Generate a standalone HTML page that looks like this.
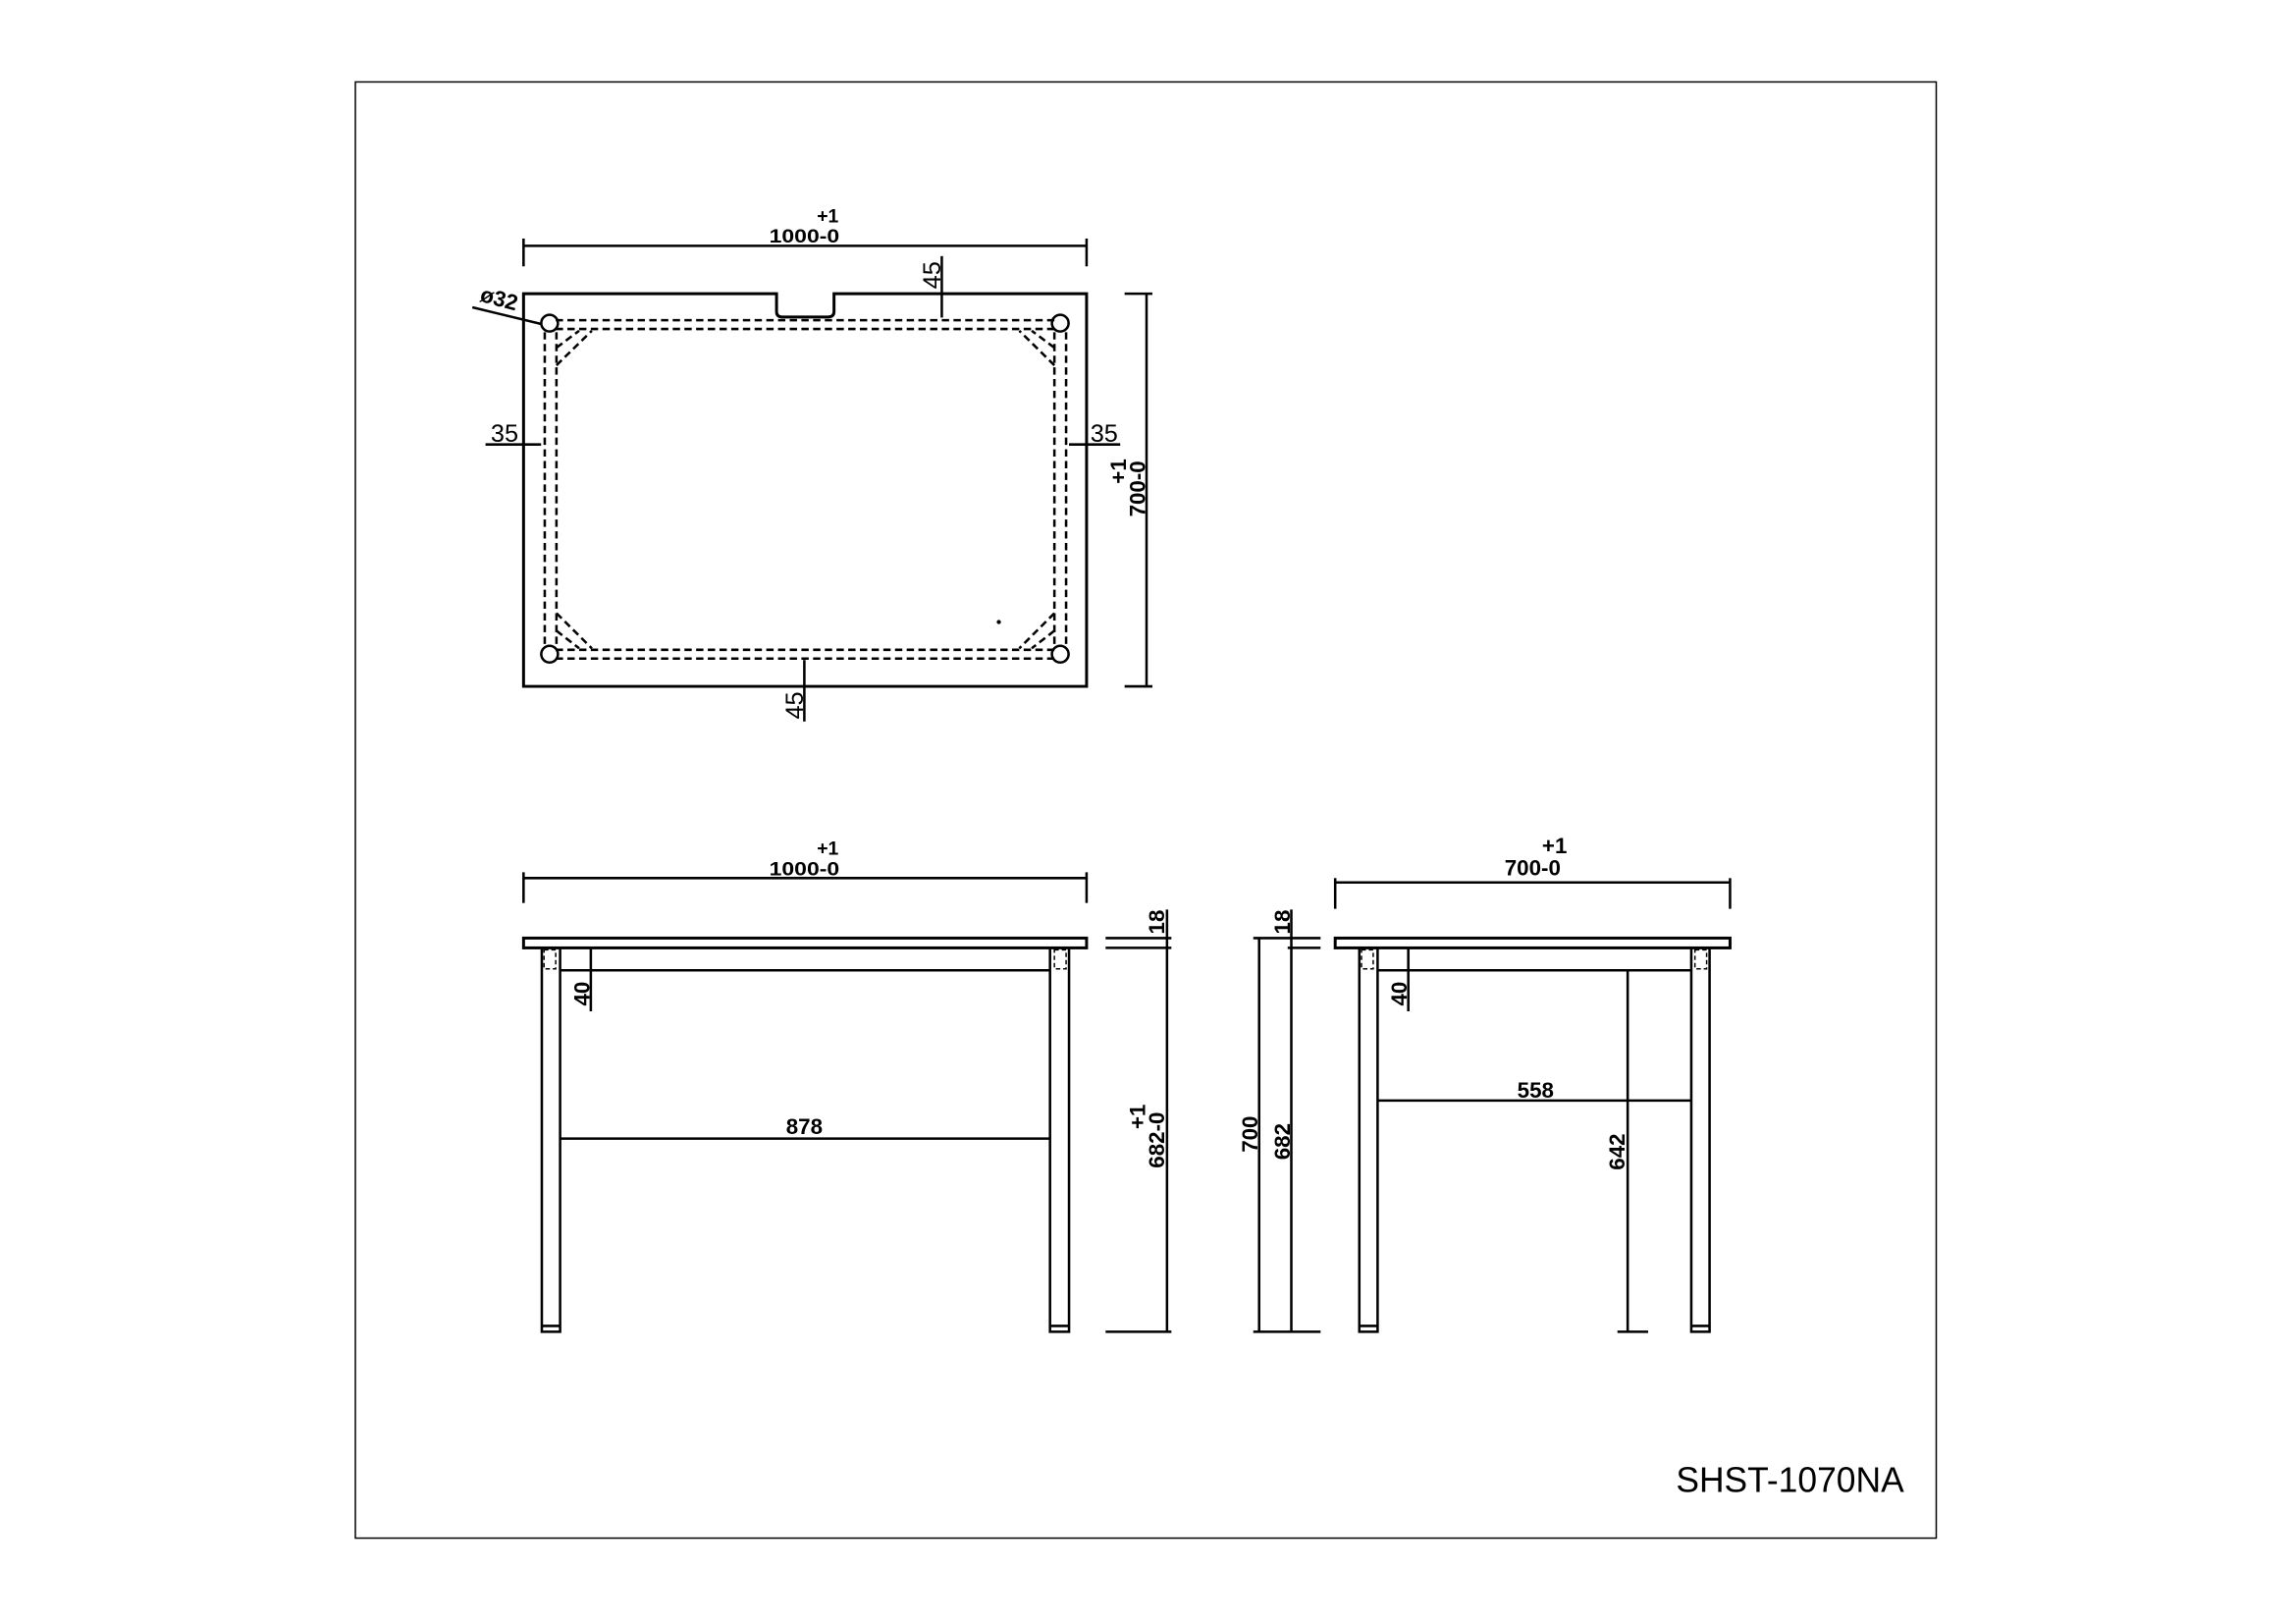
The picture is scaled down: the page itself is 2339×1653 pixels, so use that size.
<!DOCTYPE html>
<html><head><meta charset="utf-8"><style>
html,body{margin:0;padding:0;background:#fff}
svg{display:block}
text{font-family:"Liberation Sans",sans-serif;fill:#000}
</style></head><body>
<svg width="2339" height="1653" viewBox="0 0 1570 1109" preserveAspectRatio="none" xmlns="http://www.w3.org/2000/svg">
<g fill="none" stroke="#000" stroke-width="1.7">
<rect x="243" y="56" width="1081" height="995" stroke-width="1"/>

<line x1="358" y1="168" x2="743" y2="168"/>
<line x1="358" y1="163" x2="358" y2="182"/>
<line x1="743" y1="163" x2="743" y2="182"/>
<path d="M358,200.7 H531 V213 Q531,216.6 535,216.6 H566 Q570.3,216.6 570.3,213 V200.7 H743 V469 H358 Z" stroke-width="2"/>
<g stroke-dasharray="5,3">
<line x1="380" y1="218.8" x2="721" y2="218.8"/>
<line x1="380" y1="224.8" x2="721" y2="224.8"/>
<line x1="380" y1="444" x2="721" y2="444"/>
<line x1="380" y1="450" x2="721" y2="450"/>
<line x1="372.5" y1="227" x2="372.5" y2="442"/>
<line x1="380.5" y1="227" x2="380.5" y2="442"/>
<line x1="721" y1="227" x2="721" y2="442"/>
<line x1="729" y1="227" x2="729" y2="442"/>
<line x1="380.5" y1="237.6" x2="396" y2="226"/>
<line x1="380.5" y1="249.6" x2="404.7" y2="226"/>
<line x1="721" y1="237.6" x2="705.5" y2="226"/>
<line x1="721" y1="249.6" x2="697" y2="226"/>
<line x1="380.5" y1="431" x2="396" y2="443"/>
<line x1="380.5" y1="419" x2="404.7" y2="443"/>
<line x1="721" y1="431" x2="705.5" y2="443"/>
<line x1="721" y1="419" x2="697" y2="443"/>
</g>
<circle cx="375.8" cy="220.8" r="5.7"/>
<circle cx="725" cy="220.8" r="5.7"/>
<circle cx="375.8" cy="447" r="5.7"/>
<circle cx="725" cy="447" r="5.7"/>
<line x1="644" y1="175" x2="644" y2="217"/>
<line x1="550" y1="451" x2="550" y2="493"/>
<line x1="332" y1="303.7" x2="370" y2="303.7"/>
<line x1="731" y1="303.7" x2="766" y2="303.7"/>
<line x1="323" y1="210" x2="370.5" y2="221.5"/>
<line x1="784" y1="200.7" x2="784" y2="469"/>
<line x1="769" y1="200.7" x2="788" y2="200.7"/>
<line x1="769" y1="469" x2="788" y2="469"/>
<circle cx="683" cy="425" r="0.6" fill="#000"/>

<line x1="358" y1="600" x2="743" y2="600"/>
<line x1="358" y1="596" x2="358" y2="617"/>
<line x1="743" y1="596" x2="743" y2="617"/>
<rect x="358" y="641" width="385" height="6.7" stroke-width="2"/>
<path d="M370.5,647.7 V910 H383 V647.7"/>
<path d="M718,647.7 V910 H731 V647.7"/>
<line x1="370.5" y1="906" x2="383" y2="906"/>
<line x1="718" y1="906" x2="731" y2="906"/>
<line x1="383" y1="663" x2="718" y2="663"/>
<rect x="372" y="649" width="8" height="13" stroke-dasharray="3,2" stroke-width="1"/>
<rect x="721" y="649" width="8" height="13" stroke-dasharray="3,2" stroke-width="1"/>
<line x1="404" y1="647.7" x2="404" y2="691"/>
<line x1="383" y1="778" x2="718" y2="778"/>
<line x1="756" y1="641" x2="801" y2="641"/>
<line x1="756" y1="647.7" x2="801" y2="647.7"/>
<line x1="756" y1="910" x2="801" y2="910"/>
<line x1="798" y1="621.5" x2="798" y2="910"/>

<line x1="857" y1="641" x2="903" y2="641"/>
<line x1="880.5" y1="647.7" x2="903" y2="647.7"/>
<line x1="857" y1="910" x2="903" y2="910"/>
<line x1="861" y1="641" x2="861" y2="910"/>
<line x1="883" y1="621.5" x2="883" y2="910"/>
<line x1="913" y1="603" x2="1183" y2="603"/>
<line x1="913" y1="600" x2="913" y2="621"/>
<line x1="1183" y1="600" x2="1183" y2="621"/>
<rect x="913" y="641" width="270" height="6.7" stroke-width="2"/>
<path d="M929.5,647.7 V910 H942 V647.7"/>
<path d="M1156.5,647.7 V910 H1169 V647.7"/>
<line x1="929.5" y1="906" x2="942" y2="906"/>
<line x1="1156.5" y1="906" x2="1169" y2="906"/>
<line x1="942" y1="663" x2="1156.5" y2="663"/>
<rect x="931" y="649" width="8" height="13" stroke-dasharray="3,2" stroke-width="1"/>
<rect x="1159" y="649" width="8" height="13" stroke-dasharray="3,2" stroke-width="1"/>
<line x1="963" y1="647.7" x2="963" y2="691"/>
<line x1="942" y1="752" x2="1156.5" y2="752"/>
<line x1="1113" y1="663" x2="1113" y2="910"/>
<line x1="1106" y1="910" x2="1127" y2="910"/>
</g>

<g font-size="13" font-weight="bold" text-anchor="middle">
<text x="566" y="152">+1</text>
<text x="550" y="165.6" textLength="48" lengthAdjust="spacingAndGlyphs">1000-0</text>
<text x="566" y="584">+1</text>
<text x="550" y="598" textLength="48" lengthAdjust="spacingAndGlyphs">1000-0</text>
</g>
<g font-size="17" text-anchor="middle">
<text x="345" y="302">35</text>
<text x="755" y="302">35</text>
<text transform="translate(643,188) rotate(-90)">45</text>
<text transform="translate(549,482) rotate(-90)">45</text>
</g>
<g font-size="15" font-weight="bold" text-anchor="middle">
<text x="1063" y="583">+1</text>
<text x="1048" y="598">700-0</text>
<text x="550" y="775">878</text>
<text x="1050" y="750">558</text>
<text transform="translate(770,322) rotate(-90)">+1</text>
<text transform="translate(783,334) rotate(-90)">700-0</text>
<text transform="translate(403,679) rotate(-90)">40</text>
<text transform="translate(962,679) rotate(-90)">40</text>
<text transform="translate(796,630) rotate(-90)">18</text>
<text transform="translate(882,630) rotate(-90)">18</text>
<text transform="translate(783,763) rotate(-90)">+1</text>
<text transform="translate(796,779) rotate(-90)">682-0</text>
<text transform="translate(860,775) rotate(-90)">700</text>
<text transform="translate(882,780) rotate(-90)">682</text>
<text transform="translate(1111,787) rotate(-90)">642</text>
<text transform="translate(340,209) rotate(15)">ø32</text>
</g>
<text x="1146" y="1019.5" font-size="24.5" textLength="156" lengthAdjust="spacingAndGlyphs">SHST-1070NA</text>
</svg>
</body></html>
